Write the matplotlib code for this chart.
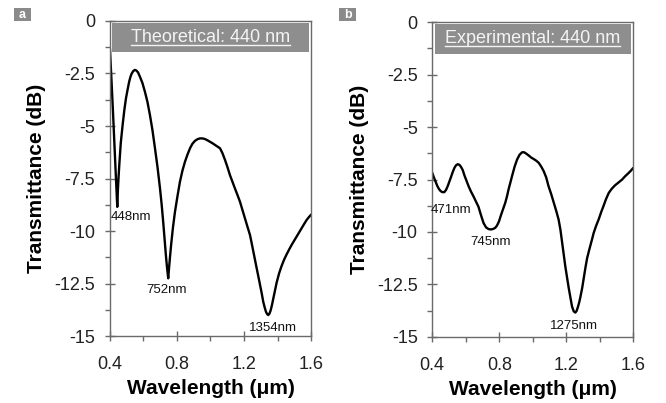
import numpy as np
import matplotlib
matplotlib.use('Agg')
import matplotlib.pyplot as plt
from matplotlib.patches import Rectangle
from matplotlib.lines import Line2D
from matplotlib.ticker import MultipleLocator

plt.rcParams['font.family'] = ['Liberation Sans', 'DejaVu Sans']

# theoretical spectrum (panel a)
wl_theo = [0.400, 0.410, 0.420, 0.430, 0.438, 0.444, 0.448, 0.452, 0.456, 0.465,
           0.476, 0.486, 0.496, 0.506, 0.515, 0.523, 0.531, 0.540, 0.549, 0.558,
           0.568, 0.579, 0.594, 0.609, 0.624, 0.639, 0.654, 0.669, 0.684, 0.699,
           0.709, 0.718, 0.726, 0.734, 0.741, 0.748, 0.753, 0.759, 0.766, 0.776,
           0.788, 0.803, 0.818, 0.833, 0.848, 0.863, 0.878, 0.892, 0.907, 0.922,
           0.937, 0.952, 0.967, 0.982, 0.997, 1.012, 1.027, 1.042, 1.057, 1.072,
           1.087, 1.102, 1.116, 1.131, 1.146, 1.161, 1.176, 1.191, 1.206, 1.221,
           1.236, 1.246, 1.256, 1.266, 1.276, 1.286, 1.296, 1.306, 1.315, 1.323,
           1.331, 1.338, 1.345, 1.352, 1.359, 1.367, 1.375, 1.385, 1.395, 1.410,
           1.425, 1.440, 1.455, 1.470, 1.485, 1.500, 1.515, 1.530, 1.545, 1.560,
           1.574, 1.588, 1.600]
t_theo = [-1.3, -2.9, -4.6, -6.4, -7.8, -8.85, -8.0, -7.4, -6.86, -5.8,
          -4.95, -4.25, -3.68, -3.25, -2.89, -2.65, -2.49, -2.38, -2.33, -2.36,
          -2.45, -2.65, -2.95, -3.37, -3.85, -4.48, -5.2, -6.06, -6.95, -7.97,
          -8.75, -9.56, -10.35, -11.14, -11.75, -12.25, -11.75, -11.2, -10.6, -9.85,
          -9.1, -8.35, -7.65, -7.12, -6.7, -6.36, -6.06, -5.85, -5.71, -5.63,
          -5.59, -5.59, -5.62, -5.68, -5.75, -5.82, -5.9, -5.98, -6.06, -6.3,
          -6.62, -6.97, -7.33, -7.65, -7.97, -8.28, -8.6, -9.0, -9.4, -9.8,
          -10.19, -10.58, -10.98, -11.38, -11.78, -12.17, -12.57, -12.97, -13.37, -13.62,
          -13.84, -13.95, -14.0, -13.93, -13.78, -13.52, -13.21, -12.83, -12.45, -12.0,
          -11.65, -11.35, -11.1, -10.87, -10.65, -10.45, -10.25, -10.05, -9.85, -9.65,
          -9.47, -9.33, -9.22]

# experimental spectrum (panel b)
wl_exp = [0.400, 0.410, 0.420, 0.430, 0.440, 0.450, 0.460, 0.472, 0.482, 0.492,
          0.502, 0.512, 0.522, 0.532, 0.542, 0.552, 0.562, 0.572, 0.582, 0.592,
          0.604, 0.617, 0.631, 0.646, 0.661, 0.676, 0.691, 0.706, 0.721, 0.736,
          0.750, 0.765, 0.776, 0.786, 0.798, 0.810, 0.823, 0.836, 0.846, 0.856,
          0.866, 0.876, 0.891, 0.906, 0.921, 0.936, 0.948, 0.960, 0.975, 0.990,
          1.005, 1.020, 1.035, 1.050, 1.065, 1.080, 1.094, 1.110, 1.125, 1.140,
          1.154, 1.165, 1.175, 1.185, 1.194, 1.205, 1.215, 1.225, 1.234, 1.244,
          1.254, 1.262, 1.270, 1.277, 1.284, 1.295, 1.305, 1.314, 1.324, 1.335,
          1.345, 1.355, 1.363, 1.378, 1.393, 1.408, 1.420, 1.436, 1.453, 1.470,
          1.490, 1.510, 1.533, 1.550, 1.570, 1.585, 1.600]
t_exp = [-7.18, -7.4, -7.6, -7.8, -7.95, -8.05, -8.1, -8.1, -8.0, -7.82,
         -7.6, -7.38, -7.15, -6.95, -6.82, -6.77, -6.8, -6.9, -7.05, -7.3,
         -7.55, -7.82, -8.07, -8.3, -8.55, -8.8, -9.2, -9.57, -9.78, -9.86,
         -9.88, -9.85, -9.8, -9.7, -9.5, -9.2, -8.9, -8.6, -8.3, -7.95,
         -7.65, -7.34, -6.9, -6.55, -6.32, -6.2, -6.2, -6.26, -6.35, -6.45,
         -6.52, -6.6, -6.7, -6.88, -7.1, -7.4, -7.82, -8.2, -8.6, -9.0,
         -9.41, -9.9, -10.5, -11.1, -11.64, -12.2, -12.7, -13.15, -13.55, -13.78,
         -13.84, -13.75, -13.55, -13.35, -13.1, -12.65, -12.15, -11.7, -11.25, -10.9,
         -10.6, -10.3, -10.05, -9.7, -9.4, -9.05, -8.8, -8.45, -8.14, -7.95,
         -7.78, -7.65, -7.5, -7.35, -7.2, -7.08, -6.94]

titles = ['Theoretical: 440 nm', 'Experimental: 440 nm']
panel_tags = ['a', 'b']
# dip labels: (label x, label y, text)
dips_theo = [(0.525, -9.33, '448nm'), (0.74, -12.8, '752nm'), (1.373, -14.6, '1354nm')]
dips_exp = [(0.513, -8.93, '471nm'), (0.746, -10.5, '745nm'), (1.245, -14.5, '1275nm')]

fig = plt.figure(figsize=(6.66, 4.03), dpi=100)
axa = fig.add_axes([0.165, 0.166, 0.302, 0.782])
axb = fig.add_axes([0.649, 0.164, 0.302, 0.781])

frame = '#6a6a6a'
boxgray = '#8e8e8e'

for ax, wl, t, title, dips in [(axa, wl_theo, t_theo, titles[0], dips_theo),
                               (axb, wl_exp, t_exp, titles[1], dips_exp)]:
    ax.plot(wl, t, color='black', lw=1.7, solid_joinstyle='round', solid_capstyle='round')
    ax.set_xlim(0.4, 1.6)
    ax.set_ylim(-15, 0)
    ax.xaxis.set_minor_locator(MultipleLocator(0.2))
    ax.yaxis.set_minor_locator(MultipleLocator(1.25))
    ax.set_xticks([0.4, 0.8, 1.2, 1.6])
    ax.set_xticklabels(['0.4', '0.8', '1.2', '1.6'])
    ax.set_yticks([0, -2.5, -5, -7.5, -10, -12.5, -15])
    ax.set_yticklabels(['0', '-2.5', '-5', '-7.5', '-10', '-12.5', '-15'])
    ax.tick_params(which='major', direction='inout', length=7, width=1, color=frame,
                   labelsize=13, labelcolor='#222222')
    ax.tick_params(axis='x', which='major', pad=11)
    ax.tick_params(axis='y', which='major', pad=7)
    ax.tick_params(which='minor', direction='out', length=3.5, width=1, color=frame)
    for s in ax.spines.values():
        s.set_color(frame)
        s.set_linewidth(1.0)
    ax.set_xlabel('Wavelength (\u03bcm)', fontsize=15, fontweight='bold', labelpad=4)
    ax.set_ylabel('Transmittance (dB)', fontsize=15, fontweight='bold', labelpad=6)

    ax.add_patch(Rectangle((0.012, 0.9), 0.978, 0.093, transform=ax.transAxes,
                           facecolor=boxgray, edgecolor='none', zorder=3))
    txt = ax.text(0.5, 0.948, title, transform=ax.transAxes, ha='center', va='center',
                  fontsize=13, color='#f4f4f4', zorder=4)
    txt._underline = True

    for x, y, s in dips:
        ax.text(x, y, s, fontsize=9.5, ha='center', va='center', color='#111111')

# panel tags
for tag, x0 in zip(panel_tags, [14, 339]):
    fig.patches.append(Rectangle((x0 / 666, 1 - 21 / 403), 17 / 666, 13 / 403,
                                 transform=fig.transFigure, facecolor='#8a8a8a',
                                 edgecolor='none'))
    fig.text((x0 + 8.5) / 666, 1 - 14.5 / 403, tag, ha='center', va='center',
             color='white', fontsize=9, fontweight='bold')

# underline the title texts
fig.canvas.draw()
r = fig.canvas.get_renderer()
for ax in (axa, axb):
    for t in ax.texts:
        if getattr(t, '_underline', False):
            bb = t.get_window_extent(renderer=r)
            yb = bb.y0 + 1
            fig.lines.append(Line2D([bb.x0 / 666, bb.x1 / 666], [yb / 403, yb / 403],
                                    transform=fig.transFigure, color='#f4f4f4', lw=1))

fig.savefig('out.png', dpi=100)
